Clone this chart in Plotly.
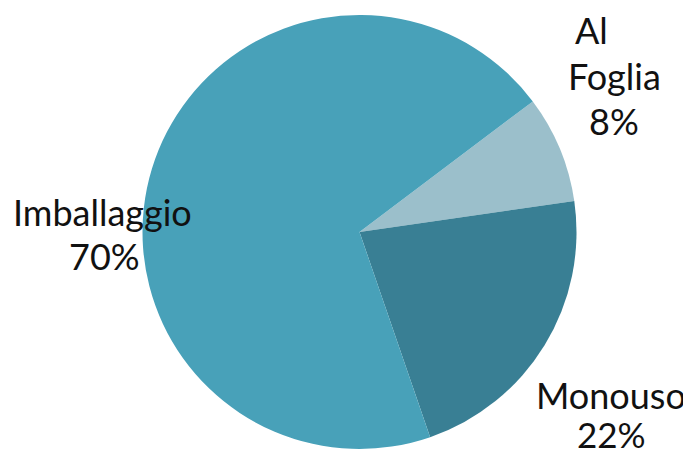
import plotly.graph_objects as go

categories = ["Al", "Monouso", "Imballaggio"]
subtitles = ["Foglia", "", ""]
values = [8, 22, 70]
colors = ["#9bbfcb", "#397f94", "#48a1b9"]

W, H = 691, 455
OFF = 8  # page body margin

fig = go.Figure(go.Pie(
    labels=categories,
    values=values,
    sort=False,
    direction="clockwise",
    rotation=53,
    marker=dict(colors=colors, line=dict(width=0)),
    textinfo="none",
    hoverinfo="label+percent",
    showlegend=False,
    domain=dict(x=[(142 - OFF) / W, (577 - OFF) / W],
                y=[1 - (449 - OFF) / H, 1 - (15 - OFF) / H]),
))

total = sum(values)
pct = [f"{round(v * 100 / total)}%" for v in values]


def label(text, px, py, size=36):
    fig.add_annotation(x=(px - OFF) / W, y=1 - (py - OFF) / H, text=text,
                       showarrow=False, xref="paper", yref="paper",
                       xanchor="center", yanchor="middle",
                       font=dict(family="Lato, Open Sans, sans-serif", size=size, color="#111111"))


label(categories[0], 591, 30)
label(subtitles[0], 614, 76)
label(pct[0], 614, 121)
label(categories[1], 611, 395)
label(pct[1], 611, 434, size=35)
label(categories[2], 102, 212)
label(pct[2], 104, 256)

fig.update_layout(
    width=W, height=H,
    margin=dict(l=0, r=0, t=0, b=0),
    paper_bgcolor="white", plot_bgcolor="white",
)
fig.write_html("out.html")
